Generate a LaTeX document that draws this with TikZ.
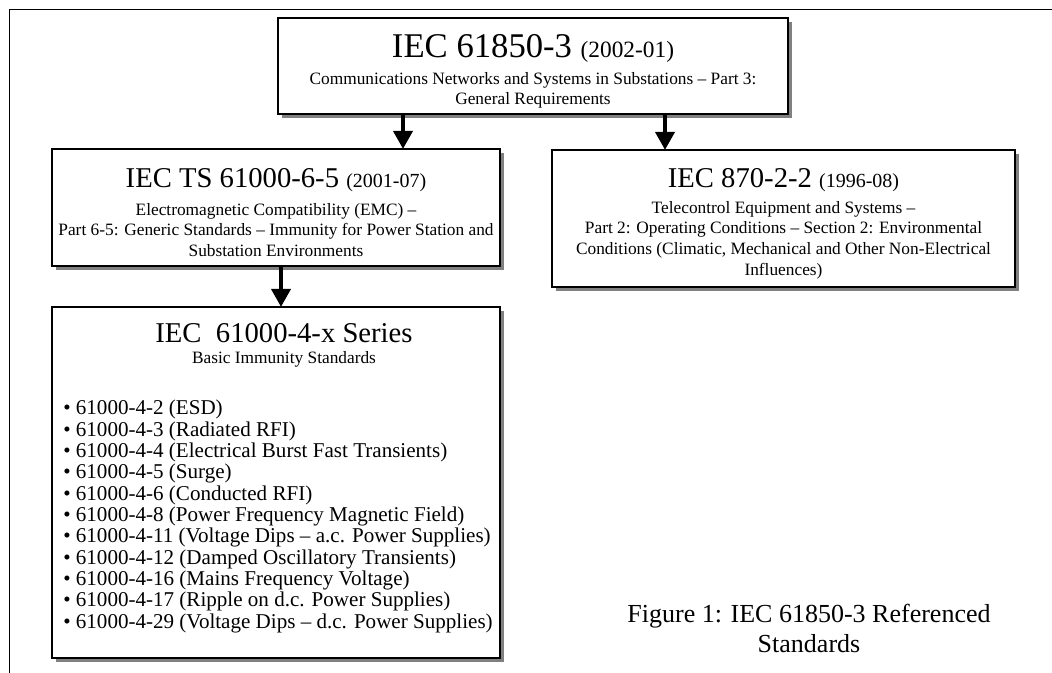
\documentclass[tikz,border=0pt]{standalone}
\usepackage{fontspec}
\setmainfont{Liberation Serif}
\usetikzlibrary{arrows.meta,shadows}

\newcommand{\yearof}[2][15]{{\fontsize{#1}{18}\selectfont #2}}

\begin{document}
\begin{tikzpicture}[x=0.75pt, y=-0.75pt,
	box/.style={draw, line width=0.8pt, fill=white, inner sep=0pt, outer sep=0pt, anchor=north west,
		drop shadow={shadow xshift=3pt, shadow yshift=-3pt, fill=black!50, opacity=1}},
	arr/.style={line width=3.4pt, -{Triangle[width=14pt,length=13.5pt]}},
	headtext/.style={anchor=base, inner sep=0pt, font=\fontsize{21.5}{25}\selectfont},
	subtext/.style={anchor=north, align=center, inner sep=0pt, font=\fontsize{13}{15.5}\selectfont},
	listtext/.style={anchor=north west, align=left, inner sep=0pt, font=\fontsize{15.8}{16}\selectfont}]
	\useasboundingbox (0,0) rectangle (1052,673);

	% frame
	\draw[line width=1.3pt] (1052,9.5) -- (9.5,9.5) -- (9.5,673);

	% IEC 61850-3
	\node[box, minimum width=382.5pt, minimum height=72pt] (top) at (278,18) {};
	\node[headtext, font=\fontsize{26}{30}\selectfont] (toptitle) at (533,57.3) {IEC 61850-3 \yearof[17.5]{(2002-01)}};
	\node[subtext] (topsub) at (533,72) {Communications Networks and Systems in Substations – Part 3:\\General Requirements};

	% IEC TS 61000-6-5
	\node[box, minimum width=336pt, minimum height=87.75pt] (ts) at (52,149) {};
	\node[headtext] (tstitle) at (276,188) {IEC TS 61000-6-5 \yearof{(2001-07)}};
	\node[subtext] (tssub) at (276,203) {Electromagnetic Compatibility (EMC) –\\Part 6-5: Generic Standards – Immunity for Power Station and\\Substation Environments};

	% IEC 870-2-2
	\node[box, minimum width=347.25pt, minimum height=102.75pt] (tc) at (552,150) {};
	\node[headtext] (tctitle) at (783.5,188) {IEC 870-2-2 \yearof{(1996-08)}};
	\node[subtext] (tcsub) at (783.5,201) {Telecontrol Equipment and Systems –\\Part 2: Operating Conditions – Section 2: Environmental\\Conditions (Climatic, Mechanical and Other Non-Electrical\\Influences)};

	% IEC 61000-4-x
	\node[box, minimum width=336pt, minimum height=263.25pt] (imm) at (52,307) {};
	\node[headtext] (immtitle) at (284,342) {IEC\ \ 61000-4-x Series};
	\node[subtext] (immsub) at (284,351) {Basic Immunity Standards};
	\node[listtext] (immlist) at (63,400) {• 61000-4-2 (ESD)\\
		• 61000-4-3 (Radiated RFI)\\
		• 61000-4-4 (Electrical Burst Fast Transients)\\
		• 61000-4-5 (Surge)\\
		• 61000-4-6 (Conducted RFI)\\
		• 61000-4-8 (Power Frequency Magnetic Field)\\
		• 61000-4-11 (Voltage Dips – a.c. Power Supplies)\\
		• 61000-4-12 (Damped Oscillatory Transients)\\
		• 61000-4-16 (Mains Frequency Voltage)\\
		• 61000-4-17 (Ripple on d.c. Power Supplies)\\
		• 61000-4-29 (Voltage Dips – d.c. Power Supplies)};

	% arrows
	\draw[arr] (top.south -| 403,0) -- (ts.north -| 403,0);
	\draw[arr] (top.south -| 665,0) -- (tc.north -| 665,0);
	\draw[arr] (ts.south -| 281,0) -- (imm.north -| 281,0);

	% caption
	\node[anchor=north, align=center, inner sep=0pt, font=\fontsize{19.5}{22.5}\selectfont] (caption) at (809,604) {Figure 1: IEC 61850-3 Referenced\\Standards};
\end{tikzpicture}
\end{document}
